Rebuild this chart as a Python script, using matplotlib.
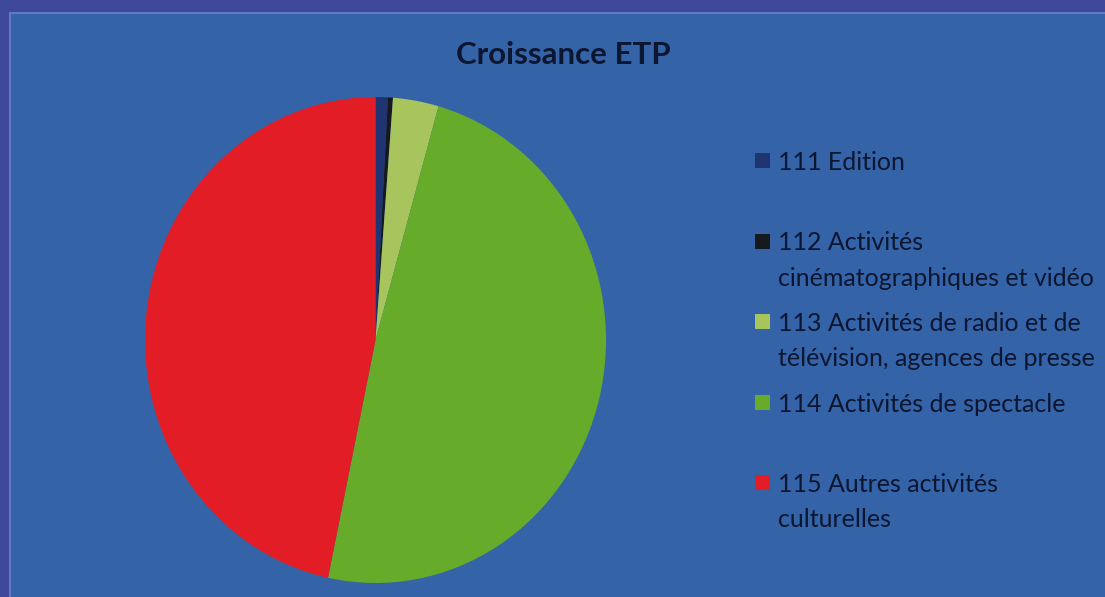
import matplotlib.pyplot as plt
from matplotlib.patches import Rectangle

# ETP growth share by sector
labels = ["111 Edition",
          "112 Activités\ncinématographiques et vidéo",
          "113 Activités de radio et de\ntélévision, agences de presse",
          "114 Activités de spectacle",
          "115 Autres activités\nculturelles"]
values = [0.86, 0.35, 3.2, 48.9, 46.7]
colors = ["#1f3470", "#161a1e", "#a8c45c", "#66ac2a", "#e21d26"]

W, H = 1105, 597
fig = plt.figure(figsize=(W / 100, H / 100), dpi=100)
fig.patch.set_facecolor("#3d4898")

# inner chart panel
panel = Rectangle((10 / W, -0.01), 1, 1.01 - 13 / H, transform=fig.transFigure,
                  facecolor="#3563a8", edgecolor="#6079bf", linewidth=1.5, zorder=-1)
fig.patches.append(panel)

ax = fig.add_axes([145 / W, 14 / H, 461 / W, 486 / H])
ax.pie(values, colors=colors, startangle=90, counterclock=False,
       wedgeprops=dict(linewidth=0))
ax.set_aspect("auto")
ax.set_xlim(-1, 1)
ax.set_ylim(-1, 1)
ax.axis("off")

txt_color = "#0c1631"
fig.text(563 / W, 1 - 55 / H, "Croissance ETP", ha="center", va="center",
         fontsize=22.5, fontweight="bold", family="Lato", color=txt_color)

# legend, one slot per sector, lines drawn one by one so the key sits on line 1
y0, step, lh = 161, 80.5, 35
for i, (lab, col) in enumerate(zip(labels, colors)):
    y = y0 + i * step
    fig.patches.append(Rectangle((755 / W, 1 - (y + 7) / H), 15 / W, 15 / H,
                                 transform=fig.transFigure, facecolor=col,
                                 edgecolor="none"))
    for j, line in enumerate(lab.split("\n")):
        fig.text(778 / W, 1 - (y + 9 + j * lh) / H, line, ha="left", va="baseline",
                 fontsize=18, family="Lato", color=txt_color)

fig.savefig("out.png", dpi=100, facecolor=fig.get_facecolor())
